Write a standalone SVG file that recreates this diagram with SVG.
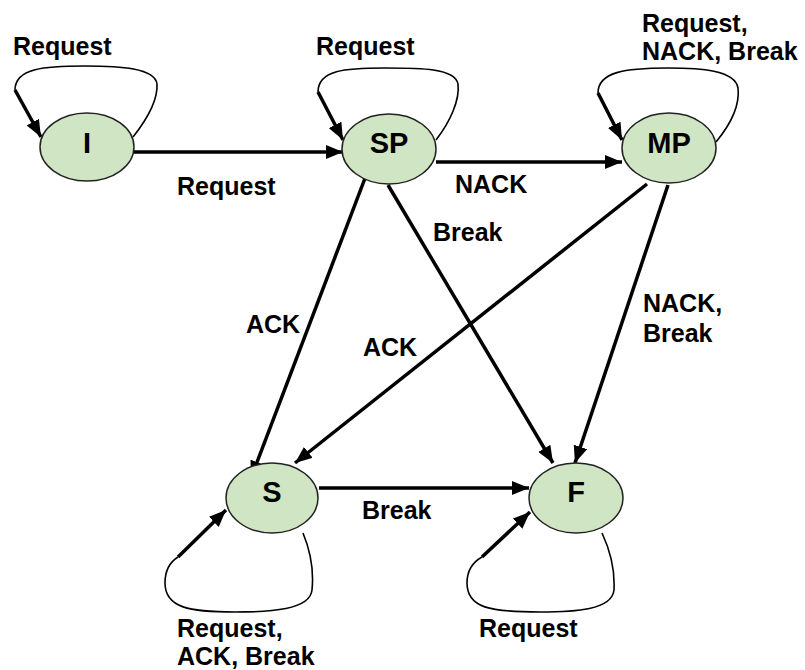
<svg xmlns="http://www.w3.org/2000/svg" width="805" height="670" viewBox="0 0 805 670">
<defs>
<marker id="ah" markerWidth="17" markerHeight="14" refX="17" refY="7" orient="auto" markerUnits="userSpaceOnUse"><path d="M0,0 L17,7 L0,14 z" fill="#000"/></marker>
<style>
.node{fill:#cfe5c4;stroke:#222;stroke-width:1.5}
.nl{font-family:"Liberation Sans",Arial,sans-serif;font-weight:bold;font-size:29px;text-anchor:middle;fill:#000}
.lb{font-family:"Liberation Sans",Arial,sans-serif;font-weight:bold;font-size:25px;fill:#000}
.e{fill:none;stroke:#000;stroke-width:3.5}
.lp{fill:none;stroke:#000;stroke-width:1.6}
</style>
</defs>
<rect width="805" height="670" fill="#fff"/>
<g id="connectors">
<path class="e" d="M133,152 L343,152" marker-end="url(#ah)"/>
<path class="e" d="M436,162 L622,162" marker-end="url(#ah)"/>
<path class="e" d="M319,488 L529,488" marker-end="url(#ah)"/>
<path class="e" d="M367,173 L251,478" marker-end="url(#ah)"/>
<path class="e" d="M388,185 L553,463" marker-end="url(#ah)"/>
<path class="e" d="M647,184 L295,463" marker-end="url(#ah)"/>
<path class="e" d="M668,185 L575,463" marker-end="url(#ah)"/>
<path class="lp" d="M133,137 C148,118 158,100 157,84 C155,68 120,66 85,66 C45,66 15,68 15,90"/>
<path class="e" d="M15,90 L41,137" marker-end="url(#ah)"/>
<path class="lp" d="M436,140 C450,122 460,100 458,84 C455,68 420,68 385,68 C345,68 318,70 318,92"/>
<path class="e" d="M318,92 L343,140" marker-end="url(#ah)"/>
<path class="lp" d="M716,142 C730,125 740,105 738,88 C735,70 700,68 668,68 C625,68 598,72 598,93"/>
<path class="e" d="M598,93 L622,140" marker-end="url(#ah)"/>
<path class="lp" d="M303,533 C310,550 314,570 312,590 C310,610 270,612 235,612 C190,612 165,608 165,583 C165,570 170,562 178,557"/>
<path class="e" d="M178,557 L226,510" marker-end="url(#ah)"/>
<path class="lp" d="M602,533 C610,550 615,570 614,590 C612,610 575,612 540,612 C490,612 467,608 467,583 C467,570 473,562 482,557"/>
<path class="e" d="M482,557 L530,512" marker-end="url(#ah)"/>
</g>
<g id="labels">
<text class="lb" x="13" y="55">Request</text>
<text class="lb" x="316" y="55">Request</text>
<text class="lb" x="642" y="32">Request,</text>
<text class="lb" x="642" y="60">NACK, Break</text>
<text class="lb" x="177" y="195">Request</text>
<text class="lb" x="455" y="193">NACK</text>
<text class="lb" x="433" y="241">Break</text>
<text class="lb" x="246" y="333">ACK</text>
<text class="lb" x="363" y="356">ACK</text>
<text class="lb" x="643" y="312">NACK,</text>
<text class="lb" x="643" y="342">Break</text>
<text class="lb" x="362" y="519">Break</text>
<text class="lb" x="177" y="637">Request,</text>
<text class="lb" x="177" y="665">ACK, Break</text>
<text class="lb" x="479" y="637">Request</text>
</g>
<g id="node-I"><ellipse class="node" cx="87" cy="147" rx="47" ry="34"/><text class="nl" x="87" y="153">I</text></g>
<g id="node-SP"><ellipse class="node" cx="389" cy="149" rx="47" ry="35"/><text class="nl" x="389" y="153">SP</text></g>
<g id="node-MP"><ellipse class="node" cx="669" cy="148" rx="47" ry="35"/><text class="nl" x="669" y="153">MP</text></g>
<g id="node-S"><ellipse class="node" cx="272" cy="498" rx="46" ry="35"/><text class="nl" x="272" y="502">S</text></g>
<g id="node-F"><ellipse class="node" cx="576" cy="498" rx="47" ry="35"/><text class="nl" x="576" y="502">F</text></g>
</svg>
